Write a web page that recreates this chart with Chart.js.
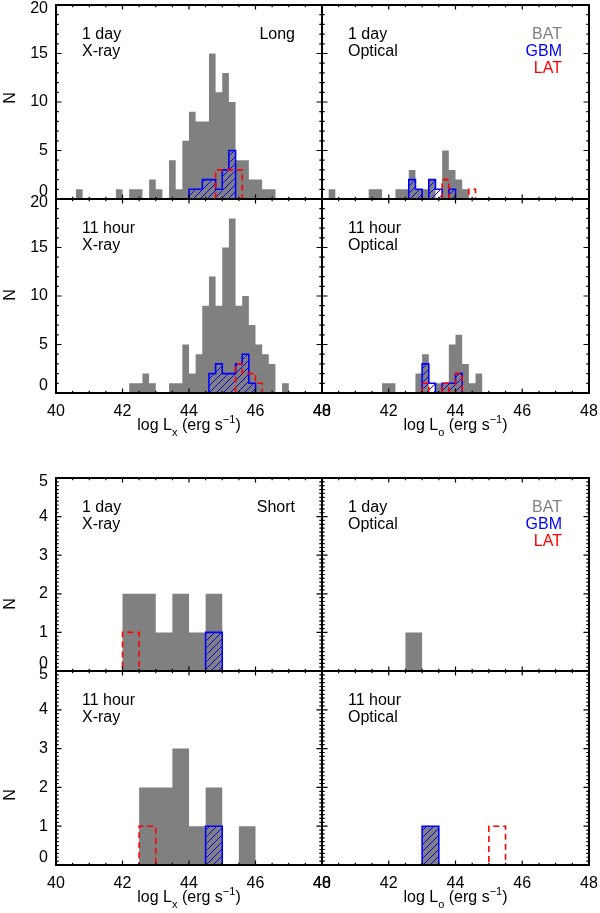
<!DOCTYPE html>
<html>
<head>
<meta charset="utf-8">
<script src="https://cdn.jsdelivr.net/npm/chart.js@4.4.0/dist/chart.umd.min.js"></script>
<style>
  body { margin: 0; background: #fff; }
  #wrap { position: relative; width: 600px; height: 913px; }
  #wrap canvas { position: absolute; left: 0; top: 0; }
</style>
</head>
<body>
<div id="wrap"></div>
<script>
// luminosity axis (log erg/s)
const lumTicks = [40, 42, 44, 46, 48];
const lumMinor = 0.5;
const longBin = 0.2;   // long GRB bins, starting at 40.0
const shortBin = 0.5;  // short GRB bins, starting at 40.0
const longNTicks = [0, 5, 10, 15, 20];
const shortNTicks = [0, 1, 2, 3, 4, 5];

// ---- Long GRBs, 0.2 dex bins from 40.0 to 48.0 (40 bins) ----
// 1 day, X-ray
const bat1dX = [0,0,0,1,0,0,0,0,0,1, 0,1,1,0,2,1,0,4,1,6, 9,8,8,15,11,13,10,4,4,2, 2,1,1,0,0,0,0,0,0,0];
const gbm1dX = [0,0,0,0,0,0,0,0,0,0, 0,0,0,0,0,0,0,0,0,0, 1,1,2,2,1,3,5,0,0,0, 0,0,0,0,0,0,0,0,0,0];
const lat1dX = [0,0,0,0,0,0,0,0,0,0, 0,0,0,0,0,0,0,0,0,0, 0,0,0,0,3,3,3,3,0,0, 0,0,0,0,0,0,0,0,0,0];
// 1 day, optical
const bat1dO = [0,1,0,0,0,0,0,1,1,0, 0,1,1,3,1,1,2,0,5,3, 2,1,0,0,0,0,0,0,0,0, 0,0,0,0,0,0,0,0,0,0];
const gbm1dO = [0,0,0,0,0,0,0,0,0,0, 0,0,0,2,1,0,2,1,0,1, 0,0,0,0,0,0,0,0,0,0, 0,0,0,0,0,0,0,0,0,0];
const lat1dO = [0,0,0,0,0,0,0,0,0,0, 0,0,0,0,0,0,0,0,2,0, 0,0,1,0,0,0,0,0,0,0, 0,0,0,0,0,0,0,0,0,0];
// 11 hour, X-ray
const bat11hX = [0,0,0,0,0,0,0,0,0,0, 0,1,1,2,1,0,0,1,1,5, 2,4,9,12,9,15,18,9,10,7, 5,4,3,0,1,0,0,0,0,0];
const gbm11hX = [0,0,0,0,0,0,0,0,0,0, 0,0,0,0,0,0,0,0,0,0, 0,0,0,2,3,2,2,3,4,1, 0,0,0,0,0,0,0,0,0,0];
const lat11hX = [0,0,0,0,0,0,0,0,0,0, 0,0,0,0,0,0,0,0,0,0, 0,0,0,0,0,0,0,3,2,2, 1,0,0,0,0,0,0,0,0,0];
// 11 hour, optical
const bat11hO = [0,0,0,0,0,0,0,0,0,1, 1,0,0,0,2,4,0,1,1,5, 6,3,1,2,0,0,0,0,0,0, 0,0,0,0,0,0,0,0,0,0];
const gbm11hO = [0,0,0,0,0,0,0,0,0,0, 0,0,0,0,0,3,1,0,1,1, 2,0,0,0,0,0,0,0,0,0, 0,0,0,0,0,0,0,0,0,0];
const lat11hO = [0,0,0,0,0,0,0,0,0,0, 0,0,0,0,0,1,0,0,1,0, 2,0,0,0,0,0,0,0,0,0, 0,0,0,0,0,0,0,0,0,0];

// ---- Short GRBs, 0.5 dex bins from 40.0 to 48.0 (16 bins) ----
const batS1dX  = [0,0,0,0,2,2,1,2,1,2,0,0,0,0,0,0];
const gbmS1dX  = [0,0,0,0,0,0,0,0,0,1,0,0,0,0,0,0];
const latS1dX  = [0,0,0,0,1,0,0,0,0,0,0,0,0,0,0,0];
const batS1dO  = [0,0,0,0,0,1,0,0,0,0,0,0,0,0,0,0];
const batS11hX = [0,0,0,0,0,2,2,3,1,2,0,1,0,0,0,0];
const gbmS11hX = [0,0,0,0,0,0,0,0,0,1,0,0,0,0,0,0];
const latS11hX = [0,0,0,0,0,1,0,0,0,0,0,0,0,0,0,0];
const batS11hO = [0,0,0,0,0,0,1,0,0,0,0,0,0,0,0,0];
const gbmS11hO = [0,0,0,0,0,0,1,0,0,0,0,0,0,0,0,0];
const latS11hO = [0,0,0,0,0,0,0,0,0,0,1,0,0,0,0,0];

const GRAY = '#808080', BLUE = '#0000ff', RED = '#ff0000';
const FONT = '"Liberation Sans", Arial, Helvetica, sans-serif';

// blue diagonal hatching
function hatch() {
  const s = 7, c = document.createElement('canvas');
  c.width = s; c.height = s;
  const g = c.getContext('2d');
  g.strokeStyle = BLUE; g.lineWidth = 1;
  g.beginPath();
  g.moveTo(0, s); g.lineTo(s, 0);
  g.moveTo(-1, 1); g.lineTo(1, -1);
  g.moveTo(s - 1, s + 1); g.lineTo(s + 1, s - 1);
  g.stroke();
  return g.createPattern(c, 'repeat');
}
const hatchPattern = hatch();

// histogram -> step points
function steps(counts, width) {
  const pts = [{ x: 40, y: 0 }];
  counts.forEach((c, i) => pts.push({ x: 40 + i * width, y: c }));
  pts.push({ x: 40 + counts.length * width, y: 0 });
  return pts;
}

function drawTitle(ctx, cx, base, sub) {
  const big = '16px ' + FONT, small = '11px ' + FONT;
  const parts = [
    { t: 'log L', f: big, dy: 0 },
    { t: sub, f: small, dy: 6 },
    { t: ' (erg s', f: big, dy: 0 },
    { t: '\u22121', f: small, dy: -7 },
    { t: ')', f: big, dy: 0 }
  ];
  let w = 0;
  parts.forEach(p => { ctx.font = p.f; p.w = ctx.measureText(p.t).width; w += p.w; });
  let x = cx - w / 2;
  ctx.textAlign = 'left';
  ctx.textBaseline = 'alphabetic';
  parts.forEach(p => { ctx.font = p.f; ctx.fillText(p.t, x, base + p.dy); x += p.w; });
}

const idl = {
  id: 'idl',
  afterDatasetsDraw(chart, args, o) {
    const { ctx, chartArea: a, scales: { x, y } } = chart;
    ctx.save();
    ctx.strokeStyle = '#000';
    ctx.lineWidth = 1.2;
    ctx.beginPath();
    const nx = Math.round((x.max - x.min) / lumMinor);
    for (let i = 0; i <= nx; i++) {
      const px = x.getPixelForValue(x.min + i * lumMinor);
      const len = i % 4 === 0 ? 4.5 : 2.2;
      ctx.moveTo(px, a.bottom); ctx.lineTo(px, a.bottom - len);
      ctx.moveTo(px, a.top); ctx.lineTo(px, a.top + len);
    }
    const ny = Math.round((y.max - y.min) / o.yMinor);
    for (let i = 0; i <= ny; i++) {
      const py = y.getPixelForValue(y.min + i * o.yMinor);
      const len = i % o.yEvery === 0 ? 5.5 : 2.7;
      ctx.moveTo(a.left, py); ctx.lineTo(a.left + len, py);
      ctx.moveTo(a.right, py); ctx.lineTo(a.right - len, py);
    }
    ctx.stroke();
    ctx.lineWidth = 2;
    ctx.strokeRect(a.left, a.top, a.right - a.left, a.bottom - a.top);

    ctx.fillStyle = '#000';
    ctx.font = '16px ' + FONT;
    // y tick labels
    if (o.yLab) {
      ctx.textAlign = 'right';
      ctx.textBaseline = 'middle';
      o.yTicks.forEach((v, i) => {
        let py = y.getPixelForValue(v);
        if (i === 0) py -= 7;
        if (i === o.yTicks.length - 1) py += 4;
        ctx.fillText(String(v), a.left - 8, py);
      });
      ctx.save();
      ctx.translate(11, o.nY);
      ctx.rotate(-Math.PI / 2);
      ctx.textAlign = 'center';
      ctx.fillText('N', 0, 0);
      ctx.restore();
    }
    // x tick labels + title
    if (o.xSub) {
      ctx.textAlign = 'center';
      ctx.textBaseline = 'alphabetic';
      lumTicks.forEach(v => ctx.fillText(String(v), x.getPixelForValue(v), a.bottom + 23));
      drawTitle(ctx, (a.left + a.right) / 2, a.bottom + 37, o.xSub);
    }
    // panel labels
    ctx.textAlign = 'left';
    ctx.textBaseline = 'alphabetic';
    o.text.forEach((t, i) => ctx.fillText(t, a.left + 26, a.top + 34 + 17 * i));
    ctx.textAlign = 'right';
    o.corner.forEach((t, i) => {
      ctx.fillStyle = o.cornerColors[i];
      ctx.fillText(t, a.right - 27, a.top + 34 + 17 * i);
    });
    ctx.restore();
  }
};

const legendTxt = ['BAT', 'GBM', 'LAT'];
const legendCol = [GRAY, BLUE, RED];

const panels = [
  { box: [56, 5, 322, 199], bat: bat1dX, gbm: gbm1dX, lat: lat1dX, bin: longBin, text: ['1 day', 'X-ray'], corner: ['Long'], cc: ['#000'], yLab: true, nY: 98 },
  { box: [322, 5, 589, 199], bat: bat1dO, gbm: gbm1dO, lat: lat1dO, bin: longBin, text: ['1 day', 'Optical'], corner: legendTxt, cc: legendCol },
  { box: [56, 199, 322, 393], bat: bat11hX, gbm: gbm11hX, lat: lat11hX, bin: longBin, text: ['11 hour', 'X-ray'], corner: [], cc: [], yLab: true, nY: 295, xSub: 'x' },
  { box: [322, 199, 589, 393], bat: bat11hO, gbm: gbm11hO, lat: lat11hO, bin: longBin, text: ['11 hour', 'Optical'], corner: [], cc: [], xSub: 'o' },
  { box: [56, 478, 322, 671], bat: batS1dX, gbm: gbmS1dX, lat: latS1dX, bin: shortBin, text: ['1 day', 'X-ray'], corner: ['Short'], cc: ['#000'], yLab: true, nY: 604 },
  { box: [322, 478, 589, 671], bat: batS1dO, gbm: null, lat: null, bin: shortBin, text: ['1 day', 'Optical'], corner: legendTxt, cc: legendCol },
  { box: [56, 671, 322, 865], bat: batS11hX, gbm: gbmS11hX, lat: latS11hX, bin: shortBin, text: ['11 hour', 'X-ray'], corner: [], cc: [], yLab: true, nY: 795, xSub: 'x' },
  { box: [322, 671, 589, 865], bat: batS11hO, gbm: gbmS11hO, lat: latS11hO, bin: shortBin, text: ['11 hour', 'Optical'], corner: [], cc: [], xSub: 'o' }
];

const wrap = document.getElementById('wrap');
panels.forEach(p => {
  const isLong = p.bin === longBin;
  const canvas = document.createElement('canvas');
  canvas.width = 600; canvas.height = 913;
  wrap.appendChild(canvas);

  const datasets = [{
    data: steps(p.bat, p.bin), stepped: true, fill: 'origin',
    backgroundColor: GRAY, borderColor: 'rgba(0,0,0,0)', borderWidth: 0, order: 3
  }];
  if (p.gbm) datasets.push({
    data: steps(p.gbm, p.bin), stepped: true, fill: 'origin',
    backgroundColor: hatchPattern, borderColor: BLUE, borderWidth: 1.6, order: 2, clip: 3
  });
  if (p.lat) datasets.push({
    data: steps(p.lat, p.bin), stepped: true, fill: false,
    borderColor: RED, borderWidth: 1.6, borderDash: [6, 4], order: 1, clip: 3
  });

  new Chart(canvas, {
    type: 'line',
    data: { datasets },
    options: {
      responsive: false,
      animation: false,
      events: [],
      elements: { point: { radius: 0 }, line: { tension: 0 } },
      layout: { padding: { left: p.box[0], top: p.box[1], right: 600 - p.box[2], bottom: 913 - p.box[3] } },
      scales: {
        x: { type: 'linear', min: 40, max: 48, display: false },
        y: { type: 'linear', min: 0, max: isLong ? 20 : 5, display: false }
      },
      plugins: {
        legend: { display: false },
        tooltip: { enabled: false },
        idl: {
          yMinor: isLong ? 1 : 0.1,
          yEvery: isLong ? 5 : 10,
          yTicks: isLong ? longNTicks : shortNTicks,
          yLab: !!p.yLab, nY: p.nY, xSub: p.xSub,
          text: p.text, corner: p.corner, cornerColors: p.cc
        }
      }
    },
    plugins: [idl]
  });
});
</script>
</body>
</html>
